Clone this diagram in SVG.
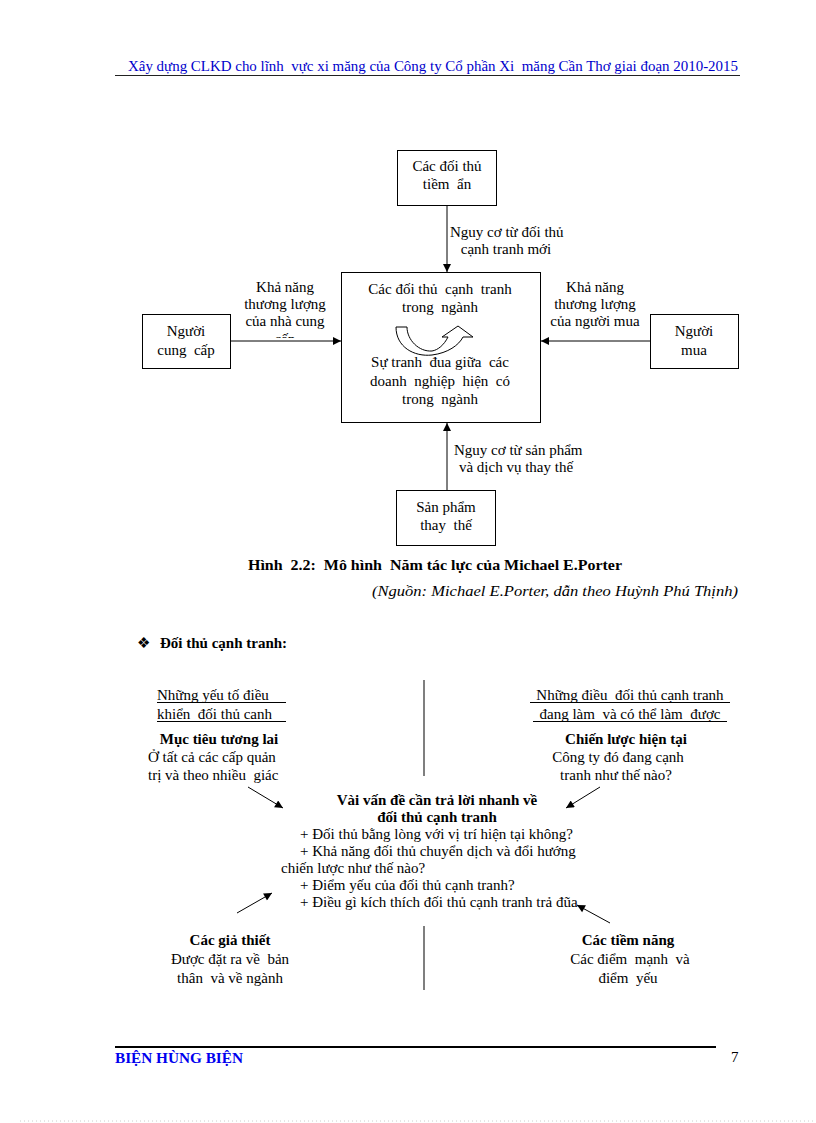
<svg xmlns="http://www.w3.org/2000/svg" width="816" height="1123" viewBox="0 0 816 1123">
<style>
text{font-family:"Liberation Serif","Times New Roman",serif;font-size:15px;fill:#000;white-space:pre}
.c{text-anchor:middle}
.b{font-weight:bold}
.box{fill:#fff;stroke:#000;stroke-width:1}
.con{stroke:#000;stroke-width:1;fill:none}
.div{stroke:#555;stroke-width:1.5}
.hd{fill:#0000cc;font-size:15px}
.ul{stroke:#000;stroke-width:1}
</style>
<defs>
<marker id="ah" viewBox="0 0 10 10" refX="10" refY="5" markerWidth="9" markerHeight="8" markerUnits="userSpaceOnUse" orient="auto">
<path d="M0,0 L10,5 L0,10 Z" fill="#000"/>
</marker>
<marker id="ah2" viewBox="0 0 10 10" refX="10" refY="5" markerWidth="11" markerHeight="8" markerUnits="userSpaceOnUse" orient="auto">
<path d="M0,0 L10,5 L0,10 Z" fill="#000"/>
</marker>
<clipPath id="clipCap"><rect x="230" y="270" width="110" height="68"/></clipPath>
</defs>
<rect width="816" height="1123" fill="#fff"/>
<g id="header">
<text class="hd" x="128" y="71" textLength="610" lengthAdjust="spacingAndGlyphs">Xây dựng CLKD cho lĩnh  vực xi măng của Công ty Cổ phần Xi  măng Cần Thơ giai đoạn 2010-2015</text>
<line x1="115" y1="75.5" x2="740" y2="75.5" stroke="#222" stroke-width="1"/>
</g>
<g id="connectors">
<line class="con" x1="447" y1="205" x2="447" y2="272" marker-end="url(#ah)"/>
<line class="con" x1="230" y1="341" x2="341" y2="341" marker-end="url(#ah)"/>
<line class="con" x1="650" y1="341" x2="541" y2="341" marker-end="url(#ah)"/>
<line class="con" x1="447" y1="490" x2="447" y2="423" marker-end="url(#ah)"/>
<line class="con" x1="248" y1="787" x2="283" y2="808" marker-end="url(#ah2)"/>
<line class="con" x1="600" y1="787" x2="566" y2="808" marker-end="url(#ah2)"/>
<line class="con" x1="237" y1="913" x2="272" y2="893" marker-end="url(#ah2)"/>
<line class="con" x1="610" y1="923" x2="577" y2="905" marker-end="url(#ah2)"/>
</g>
<g id="node-tiem-an">
<rect class="box" x="397.5" y="150.5" width="99" height="55"/>
<text class="c" x="447" y="171">Các đối thủ</text>
<text class="c" x="447" y="189">tiềm  ẩn</text>
</g>
<g id="label-top">
<text x="450" y="237">Nguy cơ từ đối thủ</text>
<text class="c" x="506" y="254">cạnh tranh mới</text>
</g>
<g id="node-center">
<rect class="box" x="341.5" y="272.5" width="199" height="150"/>
<text class="c" x="440" y="294">Các đối thủ  cạnh  tranh</text>
<text class="c" x="440" y="312">trong  ngành</text>
<path d="M396,327 C396,347 414,357 432,355 C448,353 459,345 463,337 L473,337 L458,326 L442,337 L448,337 C444,345 438,350 432,351 C419,352 407,340 407,327 Z" fill="#fff" stroke="#000" stroke-width="1"/>
<text class="c" x="440" y="367">Sự tranh  đua giữa  các</text>
<text class="c" x="440" y="386">doanh  nghiệp  hiện  có</text>
<text class="c" x="440" y="404">trong  ngành</text>
</g>
<g id="node-cung-cap">
<rect class="box" x="142.5" y="314.5" width="88" height="54"/>
<text class="c" x="186" y="336">Người</text>
<text class="c" x="186" y="355">cung  cấp</text>
</g>
<g id="label-left">
<text class="c" x="285" y="292">Khả năng</text>
<text class="c" x="285" y="309">thương lượng</text>
<text class="c" x="285" y="326">của nhà cung</text>
<text class="c" x="285" y="344" clip-path="url(#clipCap)">cấp</text>
</g>
<g id="node-mua">
<rect class="box" x="650.5" y="314.5" width="88" height="54"/>
<text class="c" x="694" y="336">Người</text>
<text class="c" x="694" y="355">mua</text>
</g>
<g id="label-right">
<text class="c" x="595" y="292">Khả năng</text>
<text class="c" x="595" y="309">thương lượng</text>
<text class="c" x="595" y="326">của người mua</text>
</g>
<g id="node-thay-the">
<rect class="box" x="396.5" y="490.5" width="99" height="55"/>
<text class="c" x="446" y="512">Sản phẩm</text>
<text class="c" x="446" y="530">thay  thế</text>
</g>
<g id="label-bottom">
<text x="454" y="455">Nguy cơ từ sản phẩm</text>
<text class="c" x="516" y="472">và dịch vụ thay thế</text>
</g>
<g id="caption">
<text class="b" x="248" y="570" textLength="374" lengthAdjust="spacingAndGlyphs">Hình  2.2:  Mô hình  Năm tác lực của Michael E.Porter</text>
<text x="372" y="596" font-style="italic" textLength="366" lengthAdjust="spacingAndGlyphs">(Nguồn: Michael E.Porter, dẫn theo Huỳnh Phú Thịnh)</text>
</g>
<g id="section-title">
<text x="137" y="648" font-size="13" font-family="DejaVu Sans, sans-serif">❖</text>
<text class="b" x="160" y="648" font-size="16">Đối thủ cạnh tranh:</text>
</g>
<g id="dividers">
<line class="div" x1="424" y1="680" x2="424" y2="776"/>
<line class="div" x1="424" y1="926" x2="424" y2="990"/>
</g>
<g id="node-muc-tieu">
<text x="157" y="700">Những yếu tố điều</text>
<line class="ul" x1="157" y1="702.5" x2="286" y2="702.5"/>
<text x="157" y="719">khiển  đối thủ canh</text>
<line class="ul" x1="157" y1="721.5" x2="286" y2="721.5"/>
<text class="c b" x="219" y="744">Mục tiêu tương lai</text>
<text x="148" y="762">Ở tất cả các cấp quản</text>
<text x="148" y="780">trị và theo nhiều  giác</text>
</g>
<g id="node-chien-luoc">
<text class="c" x="630" y="700">Những điều  đối thủ cạnh tranh</text>
<line class="ul" x1="530" y1="702.5" x2="730" y2="702.5"/>
<text class="c" x="630" y="719">đang làm  và có thể làm  được</text>
<line class="ul" x1="533" y1="721.5" x2="727" y2="721.5"/>
<text class="c b" x="626" y="744">Chiến lược hiện tại</text>
<text class="c" x="618" y="762">Công ty đó đang cạnh</text>
<text class="c" x="616" y="780">tranh như thế nào?</text>
</g>
<g id="node-van-de">
<text class="c b" x="437" y="805">Vài vấn đề cần trả lời nhanh về</text>
<text class="c b" x="437" y="822">đối thủ cạnh tranh</text>
<text x="300" y="839">+ Đối thủ bằng lòng với vị trí hiện tại không?</text>
<text x="300" y="856">+ Khả năng đối thủ chuyển dịch và đổi hướng</text>
<text x="281" y="873">chiến lược như thế nào?</text>
<text x="300" y="890">+ Điểm yếu của đối thủ cạnh tranh?</text>
<text x="300" y="907">+ Điều gì kích thích đối thủ cạnh tranh trả đũa</text>
</g>
<g id="node-gia-thiet">
<text class="c b" x="230" y="945">Các giả thiết</text>
<text class="c" x="230" y="964">Được đặt ra về  bản</text>
<text class="c" x="230" y="983">thân  và về ngành</text>
</g>
<g id="node-tiem-nang">
<text class="c b" x="628" y="945">Các tiềm năng</text>
<text class="c" x="630" y="964">Các điểm  mạnh  và</text>
<text class="c" x="628" y="983">điểm  yếu</text>
</g>
<g id="footer">
<line x1="115" y1="1047" x2="716" y2="1047" stroke="#000" stroke-width="2"/>
<text x="115" y="1063" font-weight="bold" font-size="15.5" style="fill:#0000ee" textLength="128" lengthAdjust="spacingAndGlyphs">BIỆN HÙNG BIỆN</text>
<text x="731" y="1062" font-size="15" font-family="Liberation Sans, Arial, sans-serif">7</text>
<line x1="20" y1="1121" x2="816" y2="1121" stroke="#ccc" stroke-width="1" stroke-dasharray="1,3"/>
</g>
</svg>
